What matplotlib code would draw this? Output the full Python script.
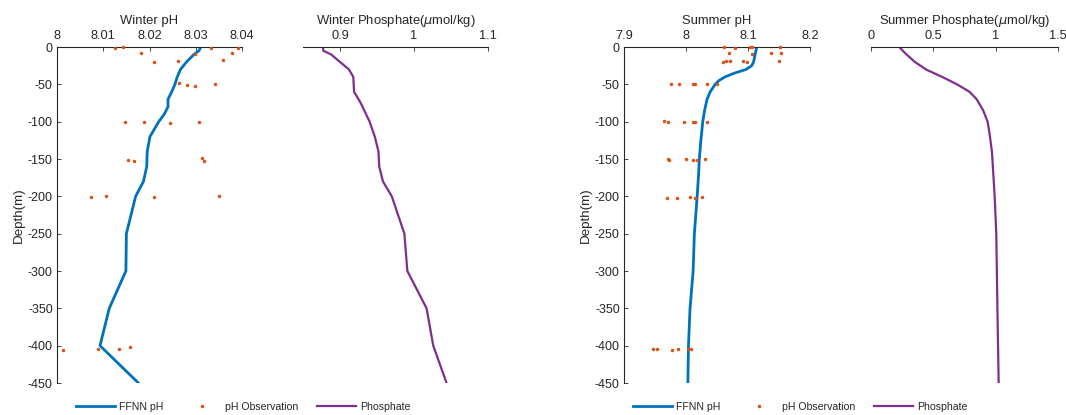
import matplotlib
matplotlib.use("Agg")
import matplotlib.pyplot as plt
from matplotlib.lines import Line2D

plt.rcParams['font.family'] = ['Liberation Sans', 'DejaVu Sans']
plt.rcParams['axes.unicode_minus'] = False

# ---------------- data ----------------
# Winter FFNN pH profile
w_ph_depth = [0, -5, -10, -20, -30, -40, -50, -60, -70, -80, -90, -100, -120, -140,
              -160, -180, -200, -250, -300, -350, -400, -450]
w_ph_ffnn = [8.0311, 8.0307, 8.0296, 8.0280, 8.0267, 8.0260, 8.0255, 8.0248, 8.0240,
             8.0240, 8.0232, 8.0220, 8.0201, 8.0195, 8.0194, 8.0187, 8.0170, 8.0150,
             8.0149, 8.0113, 8.0093, 8.0176]

# Winter pH observations
w_obs_ph = [8.0125, 8.0143, 8.0181, 8.0210, 8.0262, 8.0298, 8.0332, 8.0358, 8.0379, 8.0392,
            8.0263, 8.0280, 8.0298, 8.0342,
            8.0147, 8.0189, 8.0244, 8.0307,
            8.0153, 8.0167, 8.0313, 8.0318,
            8.0073, 8.0106, 8.0210, 8.0351,
            8.0012, 8.0089, 8.0134, 8.0158]
w_obs_depth = [-1, 0, -8.5, -19.6, -19, -10, -1, -18, -8.5, -2,
               -48, -50.5, -51.8, -49.6,
               -101, -101, -102, -100.5,
               -151.8, -153, -148, -152.5,
               -201, -199, -201, -199,
               -406, -404, -404, -402]

# Winter phosphate profile
w_po4_depth = [0, -5, -10, -20, -30, -40, -60, -75, -100, -120, -140, -160, -180, -200,
               -250, -300, -350, -400, -450]
w_po4 = [0.877, 0.8775, 0.888, 0.900, 0.912, 0.918, 0.919, 0.928, 0.940, 0.947, 0.952,
         0.953, 0.958, 0.970, 0.987, 0.991, 1.017, 1.026, 1.044]

# Summer FFNN pH profile
s_ph_depth = [0, -10, -20, -25, -30, -35, -40, -45, -50, -60, -70, -85, -100, -125, -150,
              -175, -200, -250, -300, -350, -400, -450]
s_ph_ffnn = [8.114, 8.1115, 8.109, 8.106, 8.097, 8.078, 8.063, 8.053, 8.047, 8.039, 8.034,
             8.030, 8.027, 8.024, 8.0215, 8.020, 8.018, 8.0135, 8.0115, 8.0065, 8.004, 8.003]

# Summer pH observations
s_obs_ph = [8.0613, 8.0785, 8.103, 8.107, 8.1516,
            8.0688, 8.107, 8.1376, 8.1527,
            8.059, 8.0645, 8.071, 8.0914, 8.098, 8.150,
            7.9753, 7.9887, 8.0108, 8.014, 8.0344, 8.050,
            7.965, 7.971, 7.997, 8.0118, 8.014, 8.0344,
            7.971, 7.9726, 8.000, 8.0108, 8.0183, 8.0306,
            7.9688, 7.985, 8.0065, 8.014, 8.0253,
            7.9462, 7.9527, 7.9774, 7.9876, 8.0032, 8.008]
s_obs_depth = [0, -1, 0, 0, 0,
               -8.5, -8.8, -8, -8.5,
               -19.6, -19, -19, -19, -20.5, -19,
               -50, -49.5, -50, -49.5, -50, -50,
               -99.6, -101, -100, -100.5, -101, -100.5,
               -150.5, -151, -150.5, -151, -151.5, -150,
               -201.8, -202.5, -201.5, -202, -201,
               -405, -404, -406, -404, -404, -404]

# Summer phosphate profile
s_po4_depth = [0, -8, -20, -30, -40, -50, -60, -70, -85, -100, -115, -140, -200, -250,
               -350, -450]
s_po4 = [0.227, 0.272, 0.352, 0.440, 0.570, 0.690, 0.790, 0.848, 0.900, 0.935, 0.950,
         0.970, 0.992, 1.005, 1.014, 1.024]

w_ph_ticks = [8, 8.01, 8.02, 8.03, 8.04]
w_ph_labels = ['8', '8.01', '8.02', '8.03', '8.04']
w_po4_ticks = [0.9, 1.0, 1.1]
w_po4_labels = ['0.9', '1', '1.1']
s_ph_ticks = [7.9, 8.0, 8.1, 8.2]
s_ph_labels = ['7.9', '8', '8.1', '8.2']
s_po4_ticks = [0, 0.5, 1, 1.5]
s_po4_labels = ['0', '0.5', '1', '1.5']
depth_ticks = list(range(-450, 1, 50))

# ---------------- style ----------------
BLUE = '#0072BD'
ORANGE = '#D95319'
PURPLE = '#7E2F8E'
GRAY = '#262626'

W, H = 1066, 415
fig = plt.figure(figsize=(W / 100, H / 100), dpi=100)


def pos(x0, x1, y0=47, y1=383):
    return [x0 / W, 1 - y1 / H, (x1 - x0) / W, (y1 - y0) / H]


def style_top(ax, ticks, labels, xlim, title, left_axis):
    ax.set_xlim(*xlim)
    ax.set_ylim(-450, 0)
    ax.xaxis.tick_top()
    ax.xaxis.set_label_position('top')
    ax.set_xticks(ticks)
    ax.set_xticklabels(labels)
    ax.set_xlabel(title, fontsize=9.4, color=GRAY, labelpad=4.5)
    ax.tick_params(axis='x', direction='in', length=3, width=0.6, labelsize=9.2,
                   colors=GRAY, pad=3.5)
    ax.spines['bottom'].set_visible(False)
    ax.spines['right'].set_visible(False)
    ax.spines['top'].set_color(GRAY)
    ax.spines['top'].set_linewidth(0.8)
    if left_axis:
        ax.set_yticks(depth_ticks)
        ax.set_yticklabels([str(d) for d in depth_ticks])
        ax.tick_params(axis='y', direction='in', length=3, width=0.6, labelsize=9,
                       colors=GRAY, pad=3)
        ax.spines['left'].set_color(GRAY)
        ax.spines['left'].set_linewidth(0.8)
        ax.set_ylabel('Depth(m)', fontsize=9.6, color=GRAY, labelpad=2)
    else:
        ax.spines['left'].set_visible(False)
        ax.set_yticks([])


ax1 = fig.add_axes(pos(57, 242))
ax2 = fig.add_axes(pos(303, 488))
ax3 = fig.add_axes(pos(624, 810))
ax4 = fig.add_axes(pos(871, 1058))

MS = 1.5

ax1.plot(w_ph_ffnn, w_ph_depth, color=BLUE, lw=2.0, zorder=2)
ax1.plot(w_obs_ph, w_obs_depth, ls='none', marker='o', ms=MS, color=ORANGE,
         mec=ORANGE, zorder=3, clip_on=False)
style_top(ax1, w_ph_ticks, w_ph_labels, (8.0, 8.04), 'Winter pH', True)

ax2.plot(w_po4, w_po4_depth, color=PURPLE, lw=1.6)
style_top(ax2, w_po4_ticks, w_po4_labels, (0.85, 1.1),
          r'Winter Phosphate($\mu$mol/kg)', False)

ax3.plot(s_ph_ffnn, s_ph_depth, color=BLUE, lw=2.0, zorder=2)
ax3.plot(s_obs_ph, s_obs_depth, ls='none', marker='o', ms=MS, color=ORANGE,
         mec=ORANGE, zorder=3, clip_on=False)
style_top(ax3, s_ph_ticks, s_ph_labels, (7.9, 8.2), 'Summer pH', True)

ax4.plot(s_po4, s_po4_depth, color=PURPLE, lw=1.6)
style_top(ax4, s_po4_ticks, s_po4_labels, (0, 1.5),
          r'Summer Phosphate($\mu$mol/kg)', False)

handles = [Line2D([], [], color=BLUE, lw=2.0),
           Line2D([], [], ls='none', marker='o', ms=MS, color=ORANGE),
           Line2D([], [], color=PURPLE, lw=1.6)]
names = ['FFNN pH', 'pH Observation', 'Phosphate']

for x0 in (76, 633):
    fig.legend(handles, names, ncol=3, frameon=False, fontsize=7.6,
               loc='center left', bbox_to_anchor=(x0 / W, 1 - 407 / H),
               borderpad=0, borderaxespad=0, handlelength=3.7, handletextpad=0.35,
               columnspacing=1.8, labelcolor=GRAY)

fig.savefig('out.png', dpi=100)
